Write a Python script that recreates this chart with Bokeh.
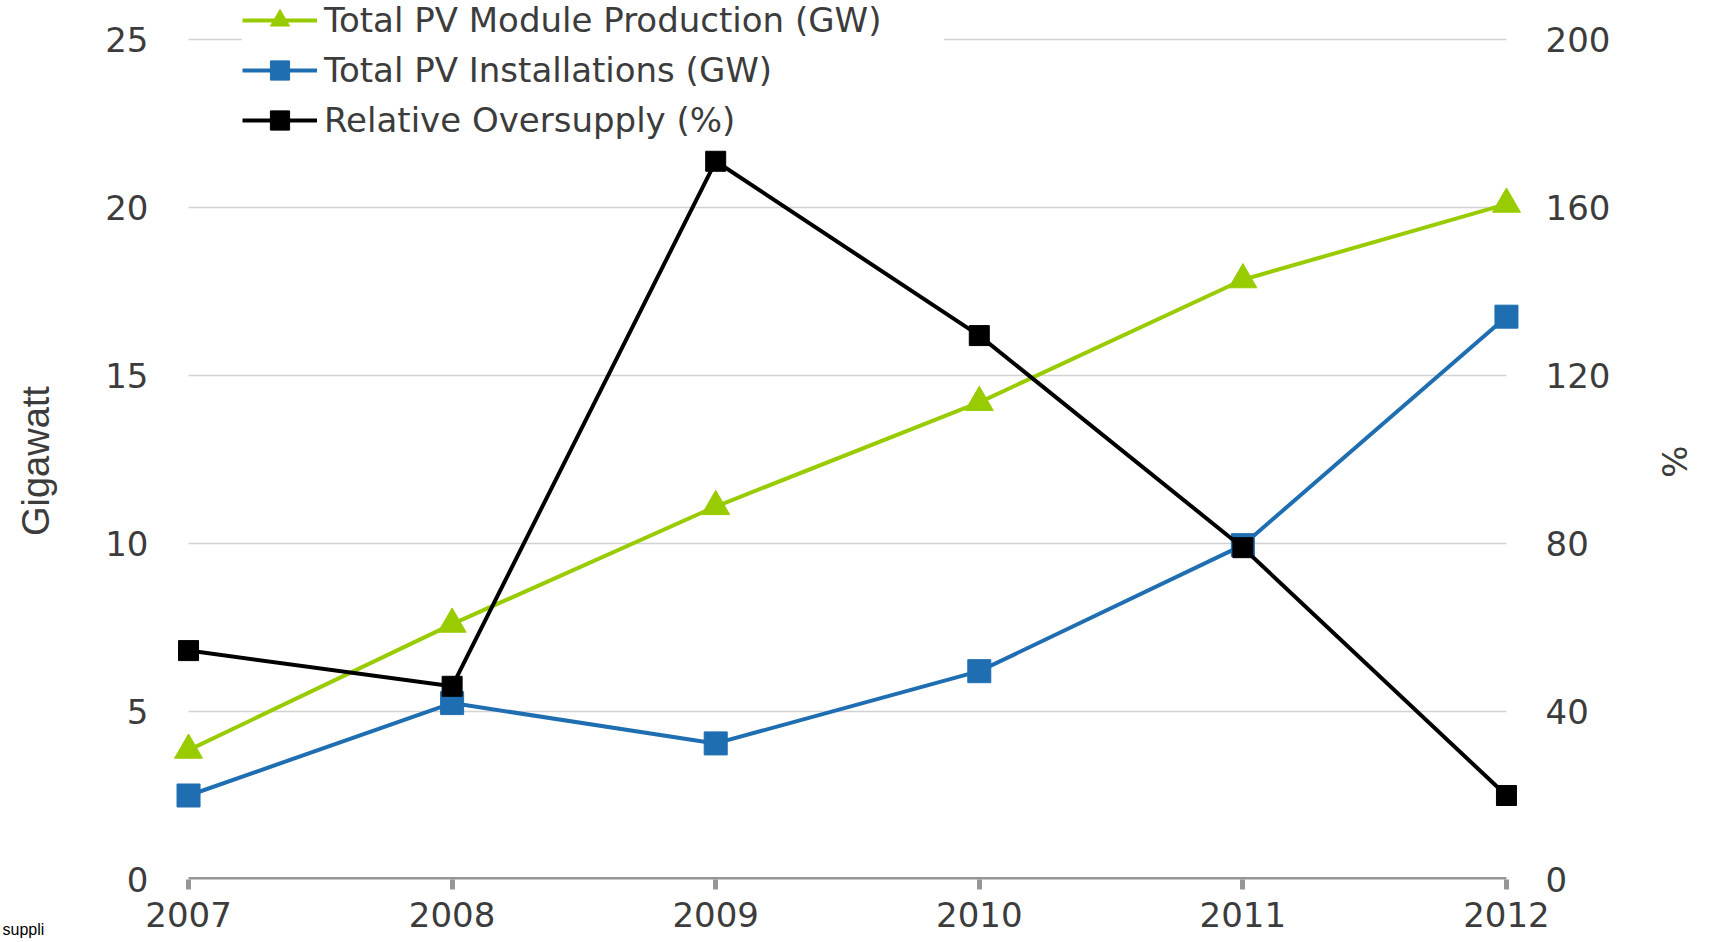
from bokeh.plotting import figure
from bokeh.models import (Range1d, LinearAxis, FixedTicker, Legend, LegendItem,
                          Title, ColumnDataSource)
from bokeh.embed import file_html
from bokeh.resources import INLINE

# ---- data ----
years = [2007, 2008, 2009, 2010, 2011, 2012]
production_gw = [3.85, 7.6, 11.1, 14.2, 17.85, 20.1]
installations_gw = [2.5, 5.25, 4.05, 6.2, 9.95, 16.75]
oversupply_pct = [54.5, 46.0, 171.0, 129.5, 79.0, 20.0]
gw_ticks = [0, 5, 10, 15, 20, 25]
pct_ticks = [0, 40, 80, 120, 160, 200]
series_names = ["Total PV Module Production (GW)",
                "Total PV Installations (GW)",
                "Relative Oversupply (%)"]
left_title = "Gigawatt"
right_title = "%"

GREEN = "#99CC00"
BLUE = "#1F6EB1"
BLACK = "#000000"
FONT = "DejaVu Sans"
TXT = "#3c3c3c"
NBSP = "\u00a0"

W, H = 1712, 942
B_LEFT, B_RIGHT, B_TOP, B_BOTTOM = 168, 186, 0, 63
FRAME_H = H - B_TOP - B_BOTTOM
Y_MAX = 26.16
X0, X1 = 2006.924, 2012.076

p = figure(width=W, height=H, output_backend="svg", toolbar_location=None,
           x_range=Range1d(X0, X1), y_range=Range1d(0, Y_MAX),
           min_border_left=B_LEFT, min_border_right=B_RIGHT,
           min_border_top=B_TOP, min_border_bottom=B_BOTTOM)
p.outline_line_color = None
p.background_fill_color = "white"
p.extra_y_ranges = {"pct": Range1d(0, Y_MAX * 8)}

# grid: horizontal lines only between first and last year
p.xgrid.visible = False
p.ygrid.visible = False
n = len(gw_ticks) - 1
p.segment(x0=[years[0]] * n, x1=[years[-1]] * n, y0=gw_ticks[1:], y1=gw_ticks[1:],
          line_color="#D2D2D2", line_width=1.5)
p.segment(x0=[years[0]], x1=[years[-1]], y0=[0], y1=[0],
          line_color="#969696", line_width=5)

# left axis (title padded so that it centres on the 0..25 span)
ya = p.yaxis[0]
ya.ticker = FixedTicker(ticks=gw_ticks)
ya.axis_line_color = None
ya.major_tick_line_color = None
ya.minor_tick_line_color = None
ya.major_label_standoff = 14
ya.major_label_text_font = FONT
ya.major_label_text_font_size = "34px"
ya.major_label_text_color = TXT
ya.axis_label = left_title + NBSP * 4
ya.axis_label_text_font = "Liberation Sans"
ya.axis_label_text_font_size = "38px"
ya.axis_label_text_font_style = "normal"
ya.axis_label_text_color = TXT
ya.axis_label_standoff = 45

# right axis
ra = LinearAxis(y_range_name="pct", ticker=FixedTicker(ticks=pct_ticks))
ra.axis_line_color = None
ra.major_tick_line_color = None
ra.minor_tick_line_color = None
ra.major_label_standoff = 13
ra.major_label_text_font = FONT
ra.major_label_text_font_size = "34px"
ra.major_label_text_color = TXT
ra.axis_label = NBSP * 4 + right_title
ra.axis_label_text_font = FONT
ra.axis_label_text_font_size = "34px"
ra.axis_label_text_font_style = "normal"
ra.axis_label_text_color = TXT
ra.axis_label_standoff = 41
p.add_layout(ra, "right")

# bottom axis
xa = p.xaxis[0]
xa.ticker = FixedTicker(ticks=years)
xa.axis_line_color = None
xa.major_tick_line_color = "#969696"
xa.major_tick_line_width = 5
xa.major_tick_in = 0
xa.major_tick_out = 10
xa.minor_tick_line_color = None
xa.major_label_standoff = 12
xa.major_label_text_font = FONT
xa.major_label_text_font_size = "34px"
xa.major_label_text_color = TXT

# series
src = ColumnDataSource(dict(x=years, prod=production_gw, inst=installations_gw,
                            over=oversupply_pct))
l1 = p.line("x", "prod", source=src, line_color=GREEN, line_width=4)
m1 = p.scatter("x", "prod", source=src, marker="triangle", size=28,
               fill_color=GREEN, line_color=GREEN)
l2 = p.line("x", "inst", source=src, line_color=BLUE, line_width=4)
m2 = p.scatter("x", "inst", source=src, marker="square", size=23,
               fill_color=BLUE, line_color=BLUE)
l3 = p.line("x", "over", source=src, y_range_name="pct", line_color=BLACK,
            line_width=4)
m3 = p.scatter("x", "over", source=src, y_range_name="pct", marker="square",
               size=20, fill_color=BLACK, line_color=BLACK)

legend = Legend(items=[
    LegendItem(label=series_names[0], renderers=[l1, m1]),
    LegendItem(label=series_names[1], renderers=[l2, m2]),
    LegendItem(label=series_names[2], renderers=[l3, m3]),
])
LEG_H = 3 * 48 + 2 * 2
legend.location = (74, FRAME_H - LEG_H + 4)
legend.padding = 0
legend.spacing = 2
legend.glyph_width = 75
legend.glyph_height = 48
legend.label_height = 48
legend.label_width = 620
legend.label_standoff = 7
legend.label_text_font = FONT
legend.label_text_font_size = "34px"
legend.label_text_color = TXT
legend.label_text_baseline = "middle"
legend.border_line_color = None
legend.background_fill_color = "white"
legend.background_fill_alpha = 1.0
p.add_layout(legend)

# clipped source note at the bottom-left corner
note = Title(text="suppli", align="left", offset=-166, standoff=-18,
             vertical_align="top", text_font="Liberation Sans",
             text_font_size="16px", text_font_style="normal",
             text_color="#000000")
p.add_layout(note, "below")

open("out.html", "w").write(file_html(p, INLINE))
